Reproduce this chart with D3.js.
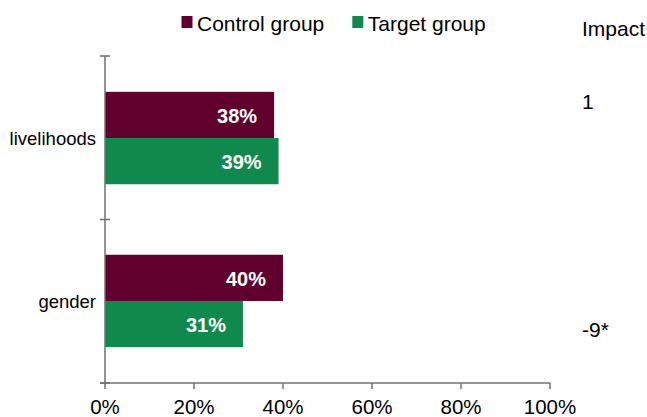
<!DOCTYPE html>
<html>
<head>
<meta charset="utf-8">
<script src="https://cdn.jsdelivr.net/npm/d3@7"></script>
<style>
  html, body { margin: 0; padding: 0; background: #fff; }
  svg { display: block; font-family: "Liberation Sans", Arial, sans-serif; }
</style>
</head>
<body>
<svg id="chart" width="647" height="417"></svg>
<script>
// Survey results by theme: control vs target group shares, plus impact score
const categories = ["livelihoods", "gender"];
const seriesNames = ["Control group", "Target group"];
const controlValues = [38, 40];
const targetValues = [39, 31];
const impactLabels = ["1", "-9*"];
const xTicks = [0, 20, 40, 60, 80, 100];
const colors = ["#61002D", "#0F8A4C"];

const svg = d3.select("#chart");

const x0 = 105, x1 = 550;
const yTop = 56, yBottom = 383;

const x = d3.scaleLinear().domain([0, 100]).range([x0, x1]);
const y = d3.scaleBand().domain(categories).range([yTop, yBottom])
  .paddingInner(0.433).paddingOuter(0.22);
const sub = d3.scaleBand().domain(seriesNames).range([0, y.bandwidth()]).padding(0);

const rows = categories.map((c, i) => ({
  cat: c,
  vals: [controlValues[i], targetValues[i]]
}));

// Bars with value labels
const g = svg.append("g");
rows.forEach(r => {
  r.vals.forEach((v, j) => {
    const yy = y(r.cat) + sub(seriesNames[j]);
    g.append("rect")
      .attr("x", x(0)).attr("y", yy)
      .attr("width", x(v) - x(0)).attr("height", sub.bandwidth())
      .attr("fill", colors[j]);
    g.append("text")
      .attr("x", x(v) - 17).attr("y", yy + sub.bandwidth() / 2 + 1)
      .attr("dy", "0.35em")
      .attr("text-anchor", "end")
      .attr("fill", "#fff")
      .attr("font-weight", "bold")
      .attr("font-size", "20px")
      .text(v + "%");
  });
});

// Axes
const axisColor = "#707070";
const axes = svg.append("g").attr("stroke", axisColor).attr("stroke-width", 1.5);
axes.append("line").attr("x1", x0).attr("x2", x0).attr("y1", yTop).attr("y2", yBottom);
axes.append("line").attr("x1", x0 - 5).attr("x2", x1).attr("y1", yBottom).attr("y2", yBottom);

// Category boundary ticks on the vertical axis
const step = y.step();
const boundaries = [yTop, y(categories[0]) + y.bandwidth() + (step - y.bandwidth()) / 2, yBottom];
boundaries.forEach(b => {
  axes.append("line").attr("x1", x0 - 5).attr("x2", x0 + 5).attr("y1", b).attr("y2", b);
});

// Horizontal axis ticks and labels
xTicks.forEach(t => {
  axes.append("line").attr("x1", x(t)).attr("x2", x(t)).attr("y1", yBottom).attr("y2", yBottom + 6);
  svg.append("text")
    .attr("x", x(t)).attr("y", 413.5)
    .attr("text-anchor", "middle")
    .attr("font-size", "20.5px").attr("fill", "#000")
    .text(t + "%");
});

// Category labels
categories.forEach(c => {
  svg.append("text")
    .attr("x", 96).attr("y", y(c) + y.bandwidth() / 2 + 7)
    .attr("text-anchor", "end")
    .attr("font-size", "18.5px").attr("fill", "#000")
    .text(c);
});

// Legend
const legendX = [181.5, 352.3];
seriesNames.forEach((s, j) => {
  svg.append("rect").attr("x", legendX[j]).attr("y", 16).attr("width", 11).attr("height", 12).attr("fill", colors[j]);
  svg.append("text").attr("x", legendX[j] + 15.5).attr("y", 31)
    .attr("font-size", "21px").attr("fill", "#000").text(s);
});

// Impact column
svg.append("text").attr("x", 582).attr("y", 36).attr("font-size", "21px").text("Impact");
const impactY = [109, 337];
impactLabels.forEach((t, i) => {
  svg.append("text").attr("x", 582).attr("y", impactY[i]).attr("font-size", "21px").text(t);
});
</script>
</body>
</html>
